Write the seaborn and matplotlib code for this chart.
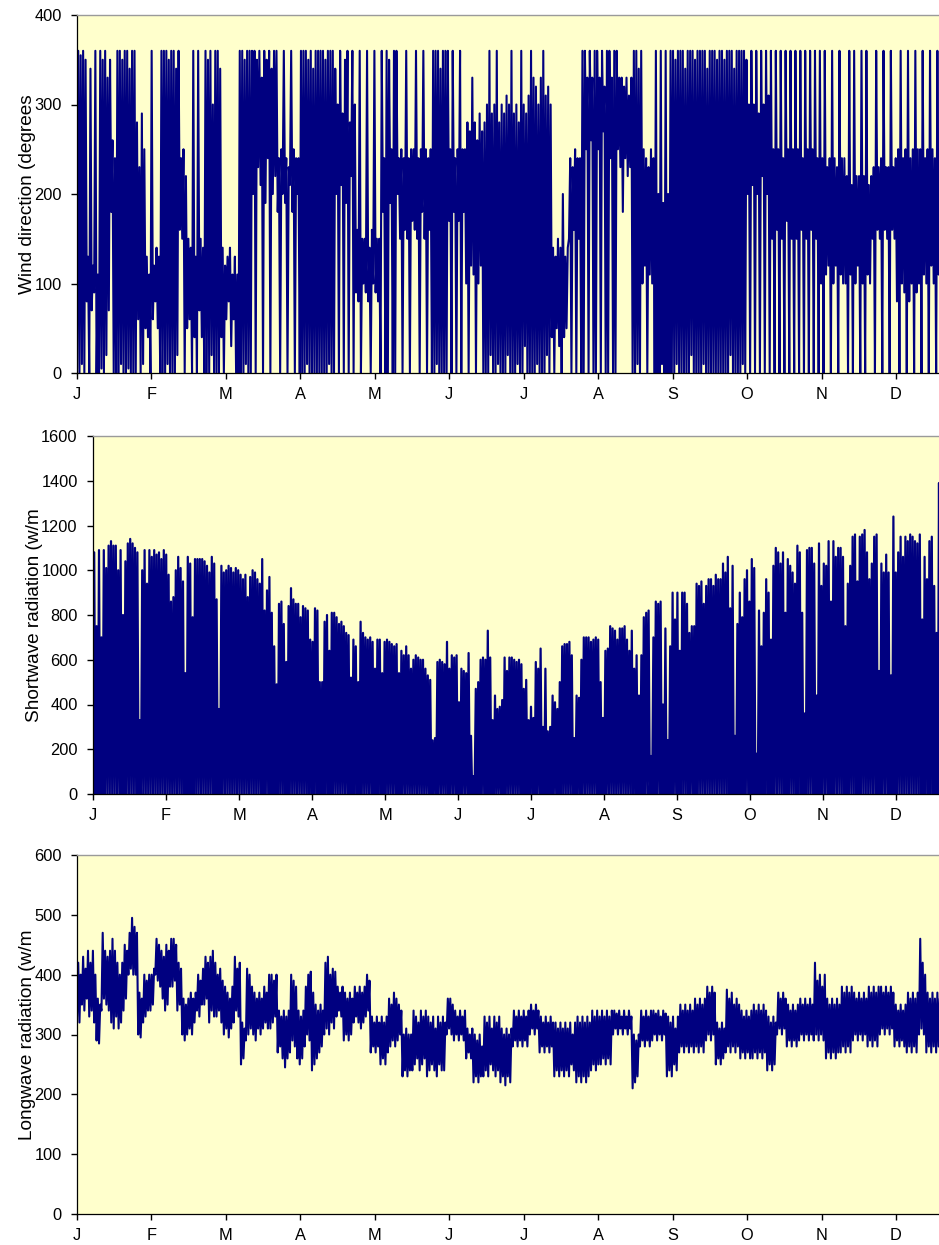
import numpy as np
import pandas as pd
import matplotlib
matplotlib.use("Agg")
import matplotlib.pyplot as plt
import seaborn as sns

# ---------------------------------------------------------------------------
# Hourly climate record summarised per day (day 0 = 1 January)
# ---------------------------------------------------------------------------
month_labels = ["J", "F", "M", "A", "M", "J", "J", "A", "S", "O", "N", "D"]
hours_per_tick = 730  # 8760 hours / 12

# Wind direction (degrees): daily minimum and maximum
wind_min = [5, 0, 10, 0,
            80, 0, 70, 90, 0,
            0, 5, 0, 20,
            70, 180, 0,
            0, 0, 10, 0, 0, 5, 0, 0,
            0, 60, 0, 10,
            50, 40, 0, 60, 80, 50, 0,
            0, 0, 10, 0, 0, 0, 20,
            160, 150, 0,
            50, 60, 0, 40, 0, 70, 40,
            0, 0, 0, 20, 0, 0, 0,
            40, 0, 60, 80, 30, 60, 0,
            0, 0, 0, 10, 0, 0,
            200, 0, 230, 210, 0, 190, 240, 0, 200, 220,
            180, 0, 200, 190, 0, 210, 180, 0, 200,
            0, 0, 0, 10, 0, 0, 0, 0,
            0, 0, 0, 0, 10, 0, 0,
            200, 0, 210, 0, 190, 0, 220, 0,
            90, 80, 0, 100, 90, 80, 0, 100, 90, 80,
            0, 180, 0, 0, 190, 0, 0, 200,
            150, 0, 160, 150, 0, 170, 160, 150, 0, 180, 150, 0, 160,
            0, 0, 10, 0, 0, 0, 0,
            170, 0, 180, 0, 170, 0, 180,
            100, 0, 120, 110, 0, 100, 120, 0,
            0, 0, 20, 0, 0, 10, 0, 0, 0, 20, 0, 0, 0, 10, 0, 0, 30, 0, 0,
            0, 0, 10, 0, 0, 0, 20, 0,
            40, 0, 50, 30, 0, 40, 50,
            150, 0, 160, 0, 150,
            0, 0, 250, 0, 260, 0, 0, 250, 0, 270, 0, 0, 240, 0, 0, 250,
            230, 180, 240, 220, 230,
            0, 0, 10, 0,
            100, 120, 0, 110, 100,
            0, 0, 0, 10, 0, 0,
            0, 0, 0, 10, 0, 0, 0, 0, 0, 20, 0, 0, 0, 0, 10, 0, 0, 0, 0, 0, 0,
            0, 0, 0, 0, 20, 0, 0, 0, 0, 10, 0,
            200, 0, 210, 0, 200, 0, 220, 0, 200, 0,
            150, 0, 160, 0, 150, 0, 170, 0, 150,
            0, 150, 0, 160, 0, 150, 0, 160, 0, 150, 0,
            100, 0, 110, 120, 0, 100, 120, 0, 110, 100,
            100, 0, 110, 0, 100, 120, 0, 100, 0, 110, 100,
            150, 0, 160, 150, 0, 160, 150, 0, 160, 150,
            80, 0, 100, 90, 0, 80, 100, 0, 90,
            100, 0, 110, 100, 0, 120, 100, 0, 110]
wind_max = [360, 355, 360, 350,
            130, 340, 120, 360, 110,
            360, 350, 360, 330,
            350, 260, 240,
            360, 360, 350, 360, 360, 340, 360, 360,
            280, 230, 290, 250,
            130, 110, 360, 120, 140, 130, 360,
            360, 360, 350, 360, 360, 340, 360,
            240, 250, 220,
            150, 140, 360, 130, 360, 150, 140,
            360, 350, 360, 300, 360, 360, 340,
            140, 120, 130, 140, 110, 130, 110,
            360, 360, 350, 360, 360, 360,
            360, 350, 360, 330, 360, 350, 360, 340, 360, 360,
            240, 250, 360, 240, 230, 360, 250, 240, 240,
            360, 360, 360, 350, 360, 340, 360, 360,
            360, 360, 350, 360, 360, 360, 340,
            300, 360, 290, 350, 360, 280, 360, 300,
            160, 360, 150, 150, 360, 140, 160, 360, 150, 150,
            360, 240, 360, 350, 250, 360, 360, 240,
            250, 240, 360, 240, 250, 250, 360, 240, 250, 360, 250, 240, 250,
            360, 360, 360, 340, 360, 360, 360,
            250, 360, 240, 250, 360, 250, 250,
            280, 270, 330, 280, 260, 290, 270, 280,
            300, 360, 290, 300, 360, 280, 300, 290, 310, 300, 360, 290, 300, 280, 360, 300, 290, 310, 360,
            330, 320, 300, 330, 360, 310, 320, 300,
            140, 130, 150, 140, 200, 130, 140,
            240, 230, 250, 240, 240,
            360, 360, 330, 360, 330, 360, 360, 330, 360, 320, 360, 360, 330, 360, 360, 330,
            330, 320, 330, 310, 330,
            360, 360, 340, 360,
            250, 240, 230, 250, 240,
            360, 200, 360, 190, 360, 200,
            360, 360, 350, 360, 360, 360, 340, 360, 360, 360, 350, 360, 360, 360, 360, 340, 360, 360, 360, 350, 360,
            360, 350, 360, 360, 360, 340, 360, 360, 360, 360, 350,
            300, 360, 300, 360, 290, 360, 300, 360, 310, 360,
            250, 360, 250, 360, 240, 360, 250, 360, 250,
            360, 250, 360, 240, 360, 250, 360, 250, 360, 240, 360,
            240, 360, 230, 240, 360, 240, 230, 360, 240, 240,
            220, 360, 210, 360, 220, 220, 360, 220, 360, 210, 220,
            230, 360, 230, 240, 360, 230, 230, 360, 230, 240,
            250, 360, 240, 250, 360, 240, 250, 360, 250,
            250, 360, 240, 250, 360, 250, 240, 360, 250]

# Shortwave radiation (W/m2): daily peak, zero through the night
sw_peak = [1080, 750, 1090, 700, 1090, 1010, 1110, 1130, 1110, 1110,
           1000, 1090, 800, 1040, 1120, 1140, 1120, 1100, 1080, 330,
           1000, 1090, 940, 1090, 1060, 1090, 1070, 1080, 1050, 1090,
           1070, 980, 860, 880, 1000, 1060, 1010, 950, 540, 1060,
           1030, 790, 1050, 1050, 1050, 1050, 1040, 1020, 990, 1060,
           1030, 870, 380, 1020, 990, 1000, 1020, 1010, 990, 1010,
           1000, 980, 960, 980, 880, 970, 1000, 990, 960, 940,
           1050, 820, 910, 970, 810, 660, 490, 850, 860, 760,
           590, 840, 920, 870, 850, 850, 790, 840, 830, 820,
           690, 680,
           830, 820, 500, 500, 770, 800, 640, 810, 810, 790,
           760, 770, 750, 720, 710, 520, 690, 660, 500, 770,
           720, 700, 690, 700, 680, 560, 690, 690, 540, 680,
           690, 680, 670, 660, 670, 540, 640, 620, 660, 620,
           560, 600, 620, 610, 600, 600, 560, 530, 510, 240,
           250, 590, 600, 590, 580, 680, 560, 620, 610, 620,
           410, 560, 550, 540, 630, 260, 80, 470, 500, 600,
           610, 600, 730, 610, 330, 440, 380, 390, 420, 610,
           550, 610, 610, 600, 590, 600, 580, 470, 510, 330,
           390, 340, 590, 560, 650, 300, 560, 280, 300, 440,
           410, 380, 500, 660, 670, 670, 680, 620, 250, 440,
           430, 600, 700, 700, 700, 680, 690, 700, 690, 500,
           340, 640, 650, 750, 740, 730, 690, 740,
           740, 750, 690, 640, 730, 560, 620, 440, 620, 790,
           810, 820, 170, 700, 860, 850, 860, 400, 740, 240,
           660, 900, 780, 900, 640, 900, 900, 850, 720, 750,
           750, 940, 930, 950, 850, 930, 960, 960, 930, 980,
           960, 960, 1030, 990, 1060, 830, 1020, 260, 760, 900,
           790, 960, 1000, 860, 1050, 1010, 180, 820, 660, 810,
           960, 900, 690, 1020, 1100, 1080, 1030, 1080, 810, 1050,
           1020, 990, 940, 1110, 1080, 810, 360, 1090, 1100, 1100,
           1030, 440, 1120, 930, 1030, 1020, 1130, 860, 1130, 1060,
           1100, 1100, 1060, 750, 940, 1020, 1150, 1160, 950, 1150,
           1160, 1180, 1080, 960, 1030, 1150, 1160, 550, 1030, 990,
           1070, 990, 530, 1240, 990, 1080, 1150, 1060, 1150, 1130,
           1160, 1150, 1130, 1120, 1160, 780, 1060, 960, 1130, 1150,
           930, 720, 1390, 1080]

# Longwave radiation (W/m2): daily minimum and maximum
lw_min = [330, 320, 350, 340, 360, 330, 340, 320, 290, 285,
          340, 360, 350, 340, 320, 310, 330, 310, 320, 340,
          360, 400, 410, 400, 400, 300, 295, 320, 330, 340,
          340, 350, 400, 390, 380, 360, 340, 350, 380, 380,
          390, 340, 350, 300, 290, 300, 310, 300, 320, 340,
          330, 350, 350, 360, 320, 340, 330, 330, 340, 320,
          300, 310, 295, 310, 320, 340, 330, 250, 260, 290,
          300, 310, 300, 290, 310, 300, 310, 320, 310, 310,
          320, 330, 270, 280, 260, 245, 260, 270, 290, 280,
          260, 250, 260, 280, 300, 290, 240, 250, 260, 270,
          280, 300, 310, 300, 320, 310, 330, 340, 330, 290,
          300, 290, 300, 320, 330, 320, 310, 320, 330, 340,
          270, 280, 270, 280, 250, 260, 250, 270, 280, 290,
          280, 290, 300, 230, 240, 230, 240, 240, 250, 260,
          240, 250, 260, 230, 240, 250, 240, 230, 250, 240,
          240, 300, 310, 300, 290, 300, 290, 300, 290, 260,
          270, 260, 220, 230, 220, 230, 230, 240, 230, 250,
          240, 230, 240, 220, 230, 215, 230, 220, 280, 290,
          280, 290, 280, 290, 280, 300, 310, 300, 310, 270,
          280, 270, 280, 270, 280, 230, 240, 230, 240, 230,
          240, 230, 250, 240, 220, 230, 220, 230, 220, 230,
          240, 250, 240, 250, 250, 260, 250, 260, 250, 300,
          310, 300, 310, 300, 310, 300, 310, 210, 220, 230,
          280, 290, 280, 290, 280, 290, 300, 290, 300, 290,
          300, 230, 240, 230, 250, 240, 270, 280, 270, 280,
          270, 280, 270, 280, 270, 280, 270, 290, 300, 290,
          300, 250, 260, 250, 260, 270, 280, 270, 280, 270,
          280, 260, 270, 260, 270, 260, 260, 270, 260, 270,
          260, 270, 240, 250, 240, 250, 300, 310, 300, 310,
          280, 290, 280, 290, 280, 290, 300, 290, 300, 290,
          300, 290, 300, 290, 300, 290, 260, 270, 260, 270,
          260, 270, 270, 280, 270, 280, 270, 290, 300, 290,
          300, 290, 300, 280, 290, 280, 290, 280, 300, 310,
          300, 310, 300, 310, 280, 290, 280, 290, 280, 270,
          280, 270, 280, 270, 300, 310, 300, 270, 280, 270,
          280, 270, 280]
lw_max = [420, 400, 430, 410, 440, 420, 440, 400, 360, 350,
          470, 440, 430, 440, 460, 440, 420, 400, 420, 450,
          440, 470, 495, 480, 470, 370, 360, 400, 390, 400,
          400, 410, 460, 450, 440, 430, 450, 440, 460, 460,
          450, 420, 410, 360, 350, 360, 370, 360, 370, 400,
          390, 410, 430, 420, 430, 440, 420, 400, 410, 390,
          380, 370, 360, 380, 430, 410, 420, 320, 310, 410,
          400, 380, 370, 360, 370, 360, 380, 370, 400, 400,
          390, 400, 340, 330, 340, 330, 340, 400, 390, 380,
          340, 330, 340, 380, 400, 405, 370, 350, 340, 350,
          340, 420, 430, 400, 410, 405, 380, 370, 380, 370,
          360, 370, 360, 380, 370, 380, 370, 380, 400, 390,
          330, 320, 330, 320, 330, 320, 330, 360, 350, 370,
          360, 350, 340, 300, 310, 300, 300, 340, 330, 320,
          340, 330, 340, 330, 320, 330, 310, 330, 320, 330,
          320, 360, 360, 350, 340, 330, 340, 330, 340, 310,
          300, 310, 300, 290, 300, 280, 330, 320, 330, 310,
          330, 320, 330, 310, 300, 310, 300, 310, 340, 330,
          340, 330, 340, 330, 340, 350, 340, 350, 340, 330,
          320, 330, 320, 330, 320, 320, 310, 320, 310, 320,
          310, 320, 300, 320, 330, 320, 330, 320, 330, 320,
          340, 330, 340, 330, 340, 330, 340, 330, 340, 340,
          335, 340, 330, 340, 330, 340, 330, 300, 290, 300,
          340, 330, 340, 330, 340, 340, 335, 340, 330, 340,
          335, 330, 320, 330, 310, 330, 350, 340, 350, 340,
          350, 340, 360, 350, 360, 350, 360, 380, 370, 380,
          370, 320, 310, 320, 310, 375, 360, 370, 350, 360,
          350, 340, 330, 340, 330, 340, 350, 340, 350, 340,
          350, 340, 330, 320, 330, 320, 370, 360, 370, 360,
          350, 340, 350, 340, 350, 360, 350, 360, 350, 360,
          350, 420, 390, 400, 380, 400, 360, 350, 360, 350,
          360, 350, 380, 370, 380, 370, 380, 370, 360, 370,
          360, 370, 360, 380, 370, 380, 370, 380, 380, 370,
          380, 370, 380, 370, 350, 340, 350, 340, 350, 370,
          360, 370, 360, 370, 460, 420, 400, 370, 360, 370,
          360, 370, 360]


def zigzag(low, high):
    """Interleave two daily series into a half-daily sequence (hour, value)."""
    low = np.asarray(low, dtype=float)
    high = np.asarray(high, dtype=float)
    n = len(low)
    hours = np.column_stack([np.arange(n) * 24, np.arange(n) * 24 + 12]).ravel()
    values = np.column_stack([low, high]).ravel()
    return pd.DataFrame({"hour": hours, "value": values})


wind_df = zigzag(wind_min, wind_max)
sw_df = zigzag(np.zeros(len(sw_peak)), sw_peak)
lw_df = zigzag(lw_min, lw_max)

# ---------------------------------------------------------------------------
# Styling
# ---------------------------------------------------------------------------
sns.set_style("ticks")
plt.rcParams["font.family"] = ["Liberation Sans", "DejaVu Sans"]

line_color = "#000080"
panel_color = "#FFFFCC"
W, H = 939, 1245
fig = plt.figure(figsize=(W / 100, H / 100), dpi=100)


def panel(left, top, bottom, x_max, df, y_max, y_step, label, lw, label_x):
    ax = fig.add_axes([left / W, 1 - bottom / H, 1 - left / W, (bottom - top) / H])
    ax.set_facecolor(panel_color)
    sns.lineplot(data=df, x="hour", y="value", ax=ax, color=line_color,
                 linewidth=lw, estimator=None, sort=False,
                 solid_joinstyle="round")
    ax.set_xlim(0, x_max)
    ax.set_ylim(0, y_max)
    ax.set_yticks(np.arange(0, y_max + 1, y_step))
    ax.set_xticks(np.arange(12) * hours_per_tick)
    ax.set_xticklabels(month_labels)
    ax.set_xlabel("")
    ax.set_ylabel(label, fontsize=13.7, color="black")
    ax.yaxis.set_label_coords((label_x - left) / (W - left), 0.5)
    ax.tick_params(axis="both", direction="out", length=4, width=1,
                   color="black", labelsize=11.8, labelcolor="black")
    ax.tick_params(axis="y", pad=7)
    ax.tick_params(axis="x", pad=6)
    for side in ("left", "bottom"):
        ax.spines[side].set_color("black")
        ax.spines[side].set_linewidth(0.9)
    ax.spines["top"].set_visible(True)
    ax.spines["top"].set_color("#9A9A9A")
    ax.spines["top"].set_linewidth(1.0)
    ax.spines["right"].set_visible(False)
    return ax


panel(77, 15, 373, 8452, wind_df, 400, 100, "Wind direction (degrees", 1.5, 36)
panel(93, 436, 794, 8460, sw_df, 1600, 200, "Shortwave radiation (w/m", 1.6, 43)
panel(77, 855, 1214, 8452, lw_df, 600, 100, "Longwave radiation (w/m", 1.5, 36)

fig.savefig("out.png", dpi=100, facecolor="white")
